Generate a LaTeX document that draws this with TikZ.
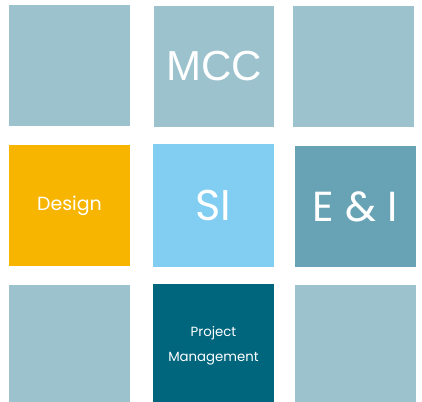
\documentclass[tikz,border=0pt]{standalone}
\usepackage{fontspec}
\setmainfont{Liberation Sans}
\newfontfamily\geofont{Poppins}
\definecolor{tilegrey}{HTML}{9CC3CD}
\definecolor{designyellow}{HTML}{F8B500}
\definecolor{siblue}{HTML}{82CEF2}
\definecolor{eiteal}{HTML}{67A3B4}
\definecolor{pmteal}{HTML}{00667E}
\begin{document}
\begin{tikzpicture}[x=1pt,y=-1pt,
	tile/.style={fill=tilegrey, minimum width=121pt, minimum height=121pt, inner sep=0pt, text=white, align=center}]
	\useasboundingbox (0,0) rectangle (422,401);
	\clip (0,0) rectangle (422,401);
	
	%top row
	\node[tile] (T1) at (69.5,65.5) {};
	\node[tile, minimum width=120pt, font=\fontsize{42}{42}\selectfont] (T2) at (214,66.5) {MCC};
	\node[tile] (T3) at (353.5,66.5) {};
	
	%middle row
	\node[tile, fill=designyellow, font=\geofont\fontsize{19}{19}\selectfont] (D) at (69.5,205.5) {Design};
	\node[tile, fill=siblue, minimum height=123pt, font=\geofont\fontsize{43}{43}\selectfont] (SI) at (213.5,205.5) {SI};
	\node[tile, fill=eiteal, font=\geofont\fontsize{42}{42}\selectfont] (EI) at (355.5,206.5) {E \& I};
	
	%bottom row
	\node[tile] (B1) at (69.5,345.5) {};
	\node[tile, fill=pmteal, minimum height=123pt, font=\geofont\fontsize{13.3}{25}\selectfont] (PM) at (213.5,345.5) {Project\\Management};
	\node[tile] (B3) at (355.5,345.5) {};
\end{tikzpicture}
\end{document}
